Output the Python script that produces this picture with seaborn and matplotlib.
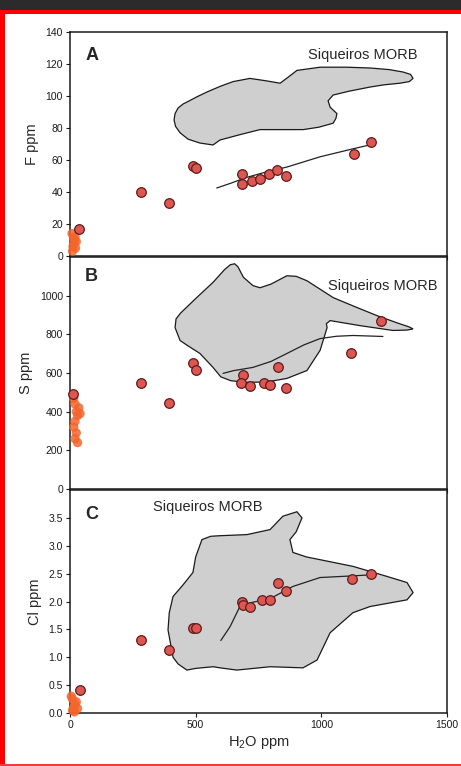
import matplotlib
matplotlib.use("Agg")
import matplotlib.pyplot as plt
from matplotlib.patches import Rectangle
import seaborn as sns

# --- data ---
# Panel A: F vs H2O
h2o_a = [36, 283, 394, 488, 500, 684, 684, 724, 756, 792, 824, 859, 1130, 1198]
f_ppm = [17, 40, 33, 56, 55, 51, 45, 47, 48, 51, 54, 50, 64, 71]
h2o_a_low = [10, 12, 15, 18, 20, 8, 25, 22, 14]
f_low = [3, 6, 8, 10, 12, 14, 9, 5, 11]
curve_a_x = [584, 640, 700, 780, 863, 995, 1126, 1195]
curve_a_y = [42.5, 45.5, 49, 52.5, 55.6, 62, 67, 69.5]
morb_a_x = [414, 418, 430, 450, 475, 505, 545, 597, 649, 716, 780, 836, 870, 903, 995, 1100,
            1194, 1270, 1325, 1355, 1365, 1350, 1313, 1250, 1194, 1110, 1047, 1027, 1035,
            1062, 1058, 1047, 990, 928, 850, 756, 680, 597, 569, 517, 470, 438, 420]
morb_a_y = [85, 89, 92.5, 95, 97, 99.5, 102.5, 106, 109, 111, 109.5, 108, 112, 116, 118, 118,
            117.5, 116.5, 115, 113.5, 111, 109, 108, 107, 105.6, 103, 100.6, 97, 93,
            89, 86, 83, 80.5, 79, 79, 79, 76, 72.5, 69.4, 70.6, 73, 77, 81]

# Panel B: S vs H2O
h2o_b = [12, 283, 394, 489, 501, 688, 680, 716, 772, 796, 828, 859, 1118, 1237]
s_ppm = [490, 546, 443, 650, 613, 588, 546, 531, 546, 536, 629, 521, 701, 871]
h2o_b_low = [15, 20, 25, 30, 20, 15, 25, 20, 30, 35, 40]
s_low = [470, 440, 400, 380, 350, 320, 290, 260, 240, 420, 390]
curve_b_x = [609, 650, 728, 800, 863, 930, 995, 1060, 1126, 1245]
curve_b_y = [598, 612, 629, 660, 701, 745, 778, 790, 794, 789]
morb_b_x = [418, 422, 440, 500, 570, 615, 638, 655, 668, 690, 728, 756, 800, 863, 900, 943,
            1047, 1130, 1221, 1300, 1350, 1365, 1340, 1285, 1154, 1035, 1020, 1023, 1010,
            995, 943, 863, 780, 700, 640, 600, 569, 517, 470, 438]
morb_b_y = [835, 880, 910, 985, 1070, 1135, 1160, 1165, 1150, 1095, 1052, 1041, 1060, 1103, 1100, 1077,
            990, 945, 897, 860, 838, 828, 822, 820, 845, 871, 855, 835, 780,
            717, 613, 572, 553, 552, 560, 580, 629, 701, 740, 768]

# Panel C: Cl vs H2O
h2o_c = [40, 283, 394, 489, 500, 684, 688, 716, 764, 796, 828, 859, 1122, 1198]
cl_ppm = [0.41, 1.31, 1.13, 1.53, 1.52, 2.0, 1.94, 1.91, 2.03, 2.03, 2.34, 2.19, 2.41, 2.5]
h2o_c_low = [10, 15, 20, 25, 10, 30, 5, 18]
cl_low = [0.05, 0.1, 0.15, 0.2, 0.25, 0.08, 0.3, 0.02]
curve_c_x = [600, 637, 676, 720, 796, 887, 995, 1126, 1206]
curve_c_y = [1.3, 1.55, 1.91, 1.98, 2.05, 2.27, 2.43, 2.46, 2.48]
morb_c_x = [390, 395, 410, 450, 489, 500, 525, 560, 597, 704, 796, 847, 903, 923, 900,
            875, 887, 940, 995, 1126, 1261, 1341, 1365, 1341, 1194, 1126, 1035, 983, 927,
            796, 664, 597, 569, 500, 465, 430, 410]
morb_c_y = [1.49, 1.8, 2.09, 2.3, 2.52, 2.8, 3.11, 3.17, 3.18, 3.2, 3.29, 3.53, 3.61, 3.5, 3.25,
            3.11, 2.88, 2.8, 2.75, 2.63, 2.45, 2.34, 2.16, 2.03, 1.91, 1.8, 1.44, 0.95, 0.81,
            0.83, 0.77, 0.81, 0.83, 0.8, 0.77, 0.88, 1.0]

x_ticks = [0, 500, 1000, 1500]

sns.set_theme(style="ticks")
plt.rcParams['font.family'] = ['Liberation Sans', 'DejaVu Sans']
plt.rcParams['mathtext.default'] = 'regular'

fig = plt.figure(figsize=(4.61, 7.66), dpi=100)

W, H = 461, 766
def ax_at(x0, y0, x1, y1):
    return fig.add_axes([x0 / W, 1 - y1 / H, (x1 - x0) / W, (y1 - y0) / H])

ax_a = ax_at(70, 32, 447, 256)
ax_b = ax_at(70, 257, 447, 489)
ax_c = ax_at(70, 490, 447, 713)

panels = [
    (ax_a, h2o_a, f_ppm, h2o_a_low, f_low, curve_a_x, curve_a_y, morb_a_x, morb_a_y,
     (0, 140), [0, 20, 40, 60, 80, 100, 120, 140], "F ppm", "A", 0.897, (1166, 125.5), "{:.0f}"),
    (ax_b, h2o_b, s_ppm, h2o_b_low, s_low, curve_b_x, curve_b_y, morb_b_x, morb_b_y,
     (0, 1200), [0, 200, 400, 600, 800, 1000], "S ppm", "B", 0.914, (1243, 1052), "{:.0f}"),
    (ax_c, h2o_c, cl_ppm, h2o_c_low, cl_low, curve_c_x, curve_c_y, morb_c_x, morb_c_y,
     (0, 4), [0, 0.5, 1.0, 1.5, 2.0, 2.5, 3.0, 3.5], "Cl ppm", "C", 0.888, (550, 3.69), "{:.1f}"),
]

for (ax, hx, vy, lx, ly, cx, cy, mx, my, ylim, yt, ylab, tag, tag_y, txy, fmt) in panels:
    # MORB field
    ax.fill(mx, my, facecolor="#cfcfcf", edgecolor="#1a1a1a", linewidth=0.9, zorder=1)
    # model curve
    sns.lineplot(x=cx, y=cy, sort=False, estimator=None, color="#222222",
                 linewidth=0.9, ax=ax, zorder=2)
    # low-H2O glasses
    sns.scatterplot(x=lx, y=ly, s=45, color="#f4652c", edgecolor="none",
                    alpha=0.85, ax=ax, zorder=3, clip_on=False)
    # samples
    sns.scatterplot(x=hx, y=vy, s=48, color="#de5652", edgecolor="#5c1c1c",
                    linewidth=0.9, ax=ax, zorder=4, clip_on=False)

    ax.set_xlim(0, 1500)
    ax.set_ylim(*ylim)
    ax.set_yticks(yt)
    ax.set_yticklabels([fmt.format(v) for v in yt])
    ax.set_xticks(x_ticks)
    ax.set_ylabel(ylab, fontsize=10.5, labelpad=5)
    ax.text(0.04, tag_y, tag, transform=ax.transAxes, fontsize=13,
            fontweight="bold", va="center", ha="left")
    ax.text(txy[0], txy[1], "Siqueiros MORB", fontsize=10.5, ha="center", va="center")
    for sp in ax.spines.values():
        sp.set_visible(True)
        sp.set_linewidth(1.1)
        sp.set_color("#1a1a1a")
    ax.tick_params(direction="out", length=3, width=0.8, labelsize=7.5, pad=2,
                   colors="#1a1a1a")

ax_a.set_xticklabels([])
ax_b.set_xticklabels([])
ax_c.set_xticklabels([str(v) for v in x_ticks])
ax_c.set_xlabel("H$_2$O ppm", fontsize=10.5, labelpad=3)

# page decoration: dark strip on top, red frame on top/left/bottom
fig.patches.append(Rectangle((0, 1 - 10 / H), 1, 10 / H, transform=fig.transFigure,
                             facecolor="#2b2b2b", edgecolor="none", zorder=0))
fig.patches.append(Rectangle((0, 1 - 14 / H), 1, 4 / H, transform=fig.transFigure,
                             facecolor="#ff0000", edgecolor="none", zorder=0))
fig.patches.append(Rectangle((0, 0), 5 / W, 1 - 10 / H, transform=fig.transFigure,
                             facecolor="#ff0000", edgecolor="none", zorder=0))
fig.patches.append(Rectangle((0, 0), 1, 2 / H, transform=fig.transFigure,
                             facecolor="#e84040", edgecolor="none", zorder=0))

fig.savefig("out.png", dpi=100)
